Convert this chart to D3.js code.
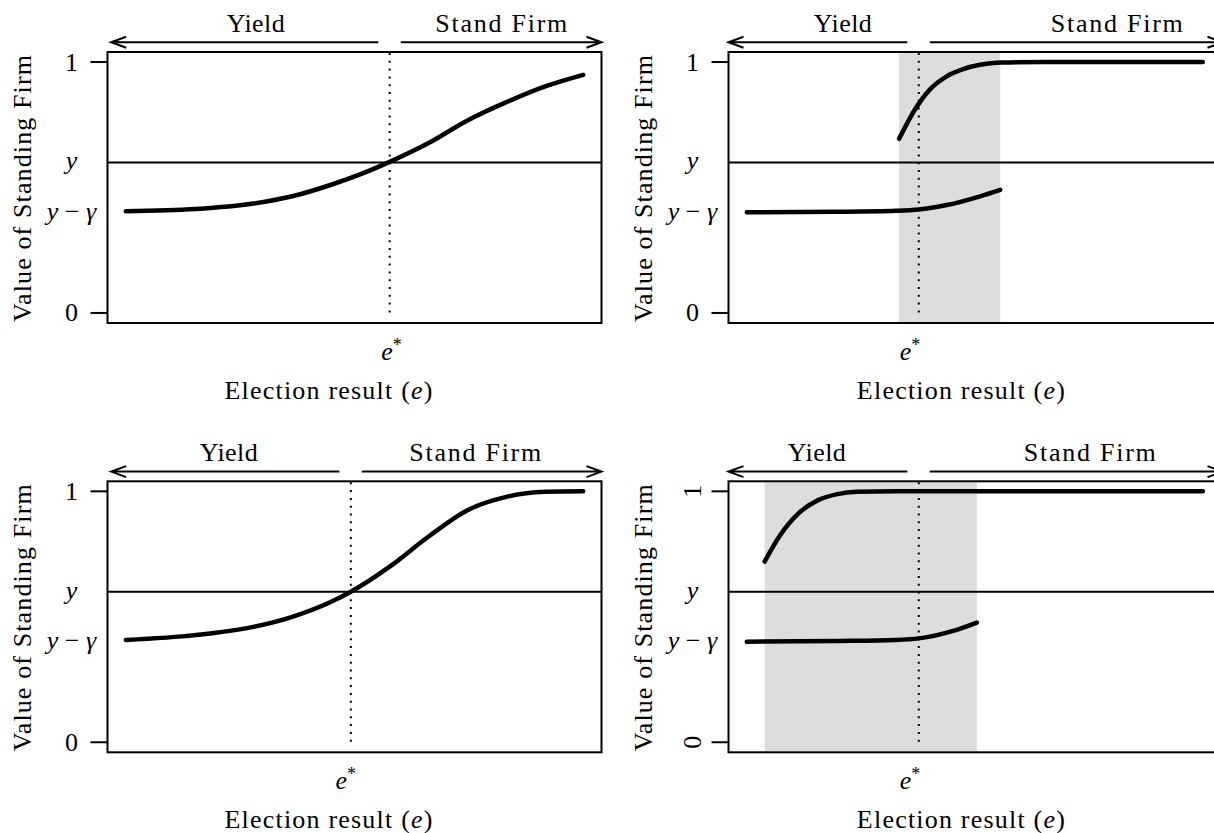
<!DOCTYPE html>
<html>
<head>
<meta charset="utf-8">
<script src="https://d3js.org/d3.v7.min.js"></script>
</head>
<body style="margin:0">
<script>
// values, both axes on a 0..1 scale
const yBar = 0.6;    // "y"
const yLow = 0.4;    // "y - gamma"
const yTicks = [0, 1];
const eStar = [0.577, 0.376, 0.492, 0.376];
const shade = [null, [0.333, 0.554], null, [0.039, 0.503]];

// top left
const c1x = [0, 0.152, 0.279, 0.364, 0.449, 0.534, 0.577, 0.662, 0.747, 0.832, 0.917, 1.0];
const c1y = [0.405, 0.414, 0.436, 0.465, 0.511, 0.568, 0.602, 0.677, 0.767, 0.84, 0.903, 0.949];

// top right
const c2ux = [0.333, 0.365, 0.40, 0.437, 0.473, 0.51, 0.554, 0.65, 0.997];
const c2uy = [0.694, 0.803, 0.89, 0.943, 0.972, 0.989, 0.998, 1.0, 1.0];
const c2lx = [0, 0.198, 0.326, 0.376, 0.437, 0.51, 0.554];
const c2ly = [0.401, 0.403, 0.407, 0.412, 0.430, 0.465, 0.491];

// bottom left
const c3x = [0, 0.152, 0.279, 0.364, 0.449, 0.492, 0.577, 0.662, 0.747, 0.832, 0.917, 1.0];
const c3y = [0.408, 0.427, 0.46, 0.50, 0.56, 0.60, 0.70, 0.82, 0.925, 0.978, 0.998, 1.0];

// bottom right
const c4ux = [0.039, 0.071, 0.113, 0.156, 0.198, 0.241, 0.326, 0.997];
const c4uy = [0.72, 0.82, 0.912, 0.965, 0.989, 0.998, 1.0, 1.0];
const c4lx = [0, 0.198, 0.326, 0.376, 0.453, 0.503];
const c4ly = [0.401, 0.404, 0.408, 0.414, 0.445, 0.477];

const zip = (xs, ys) => xs.map((x, i) => ({x: x, y: ys[i]}));
const curves = [
  [zip(c1x, c1y)],
  [zip(c2ux, c2uy), zip(c2lx, c2ly)],
  [zip(c3x, c3y)],
  [zip(c4ux, c4uy), zip(c4lx, c4ly)]
];

// layout
const boxW = 494, boxH = 271;
const boxLeft = [107.5, 728.5, 107.5, 728.5];
const boxTop = [52, 52, 481.3, 481.3];
const arrowStart = [-0.032, -0.04, -0.032, -0.04];
const yieldAt = [0.284, 0.21, 0.225, 0.153];
const standAt = [0.821, 0.809, 0.764, 0.75];
const eLabelAt = [0.581, 0.357, 0.481, 0.357];
const titleAt = [0.443, 0.468, 0.443, 0.468];
const rotTicks = [false, false, false, true];

const svg = d3.select("body").append("svg")
  .attr("width", 1214)
  .attr("height", 833);

// texts are centred by hand after they are filled in
const placed = [];
function addText(px, py, rot, width) {
  const t = svg.append("text")
    .attr("font-family", "Liberation Serif")
    .attr("font-size", 26);
  placed.push({t: t, px: px, py: py, rot: rot || 0, width: width});
  return t;
}

function drawPanel(i) {
  const L = boxLeft[i], T = boxTop[i];
  const x = d3.scaleLinear().domain([-0.04, 1.04]).range([L, L + boxW]);
  const y = d3.scaleLinear().domain([-0.04, 1.04]).range([T + boxH, T]);
  const g = svg.append("g");

  // shaded band
  if (shade[i]) {
    g.append("rect")
      .attr("x", x(shade[i][0]))
      .attr("y", T + 1)
      .attr("width", x(shade[i][1]) - x(shade[i][0]))
      .attr("height", boxH - 2)
      .attr("fill", "#dddddd");
  }

  // e* dotted line
  g.append("line")
    .attr("x1", x(eStar[i])).attr("x2", x(eStar[i]))
    .attr("y1", T + 1).attr("y2", y(-0.012))
    .attr("stroke", "#000").attr("stroke-width", 2)
    .attr("stroke-dasharray", "2,5.8");

  // y line
  g.append("line")
    .attr("x1", L).attr("x2", L + boxW)
    .attr("y1", y(yBar)).attr("y2", y(yBar))
    .attr("stroke", "#000").attr("stroke-width", 2);

  // curves
  const line = d3.line()
    .x(d => x(d.x))
    .y(d => y(d.y))
    .curve(d3.curveMonotoneX);
  curves[i].forEach(c => {
    g.append("path")
      .datum(c)
      .attr("d", line)
      .attr("fill", "none")
      .attr("stroke", "#000")
      .attr("stroke-width", 4.5)
      .attr("stroke-linecap", "round");
  });

  // box
  g.append("rect")
    .attr("x", L).attr("y", T)
    .attr("width", boxW).attr("height", boxH)
    .attr("fill", "none").attr("stroke", "#000").attr("stroke-width", 2);

  // y ticks at 0 and 1
  g.selectAll(".ytick")
    .data(yTicks)
    .enter()
    .append("line")
    .attr("x1", L - 17).attr("x2", L)
    .attr("y1", d => y(d)).attr("y2", d => y(d))
    .attr("stroke", "#000").attr("stroke-width", 2);

  // arrows above the box
  const ay = T - 9.7;
  const leftEnd = eStar[i] - 0.025, rightStart = eStar[i] + 0.024;
  g.append("path")
    .attr("d", "M" + x(arrowStart[i]) + "," + ay + "L" + x(leftEnd) + "," + ay +
      "M" + (x(arrowStart[i]) + 15) + "," + (ay - 5.5) + "L" + x(arrowStart[i]) + "," + ay +
      "L" + (x(arrowStart[i]) + 15) + "," + (ay + 5.5))
    .attr("fill", "none").attr("stroke", "#000").attr("stroke-width", 2);
  g.append("path")
    .attr("d", "M" + x(rightStart) + "," + ay + "L" + x(1.04) + "," + ay +
      "M" + (x(1.04) - 15) + "," + (ay - 5.5) + "L" + x(1.04) + "," + ay +
      "L" + (x(1.04) - 15) + "," + (ay + 5.5))
    .attr("fill", "none").attr("stroke", "#000").attr("stroke-width", 2);

  // tick labels
  const labX = L - 36;
  yTicks.forEach(v => {
    if (rotTicks[i]) {
      addText(labX + 8, y(v), -90).text(v);
    } else {
      addText(labX, y(v) + 8.5).text(v);
    }
  });

  addText(labX, y(yBar) + 7)
    .attr("font-style", "italic")
    .text("y");

  const yg = addText(labX, y(yLow) + 7);
  yg.append("tspan").attr("font-style", "italic").text("y");
  yg.append("tspan").text(" \u2212 ");
  yg.append("tspan").attr("font-style", "italic").text("\u03b3");

  // y title
  addText(L - 77, T + 136.5, -90, 267).text("Value of Standing Firm");

  addText(x(yieldAt[i]), T - 20.3, 0, 58).text("Yield");
  addText(x(standAt[i]), T - 20.3, 0, 132).text("Stand Firm");

  // e* label and x title
  const es = addText(x(eLabelAt[i]), T + boxH + 36.5);
  es.append("tspan").attr("font-style", "italic").text("e");
  es.append("tspan").attr("dy", -9).attr("font-size", 18).text("*");

  const xt = addText(x(titleAt[i]), T + boxH + 76, 0, 208);
  xt.append("tspan").text("Election result (");
  xt.append("tspan").attr("font-style", "italic").text("e");
  xt.append("tspan").text(")");
}

for (let i = 0; i < 4; i++) drawPanel(i);

// centre every text on its anchor point
placed.forEach(p => {
  let w = p.t.node().getComputedTextLength();
  if (p.width) {
    p.t.attr("textLength", p.width).attr("lengthAdjust", "spacing");
    w = p.width;
  }
  if (p.rot) {
    p.t.attr("transform", "translate(" + p.px + "," + p.py + ") rotate(" + p.rot + ")")
      .attr("x", -w / 2).attr("y", 0);
  } else {
    p.t.attr("x", p.px - w / 2).attr("y", p.py);
  }
});
</script>
</body>
</html>
